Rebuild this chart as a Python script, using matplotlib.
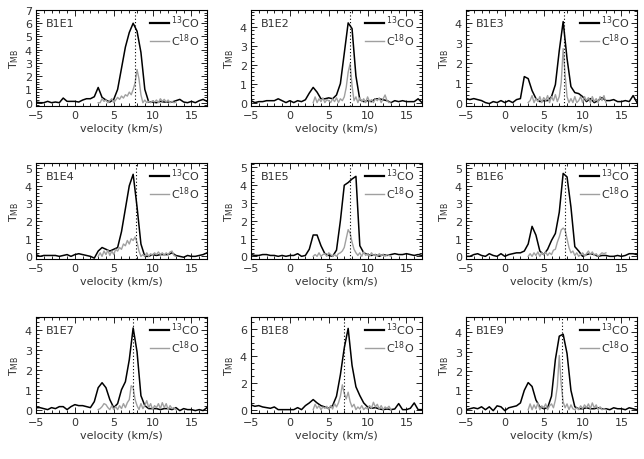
import matplotlib
matplotlib.use('Agg')
import matplotlib.pyplot as plt
from matplotlib.ticker import MultipleLocator
import numpy as np

# positions / names of the nine B1E offsets
names = ['B1E1', 'B1E2', 'B1E3', 'B1E4', 'B1E5', 'B1E6', 'B1E7', 'B1E8', 'B1E9']

# channel velocities (km/s)
vel_13co = np.arange(-5.0, 17.01, 0.5)    # 45 channels
vel_c18o = np.arange(3.0, 13.01, 0.25)    # 41 channels

# 13CO spectra (T_MB)
co13_b1e1 = [0.05, 0.0, 0.0, 0.1, 0.0, 0.05, 0.0, 0.35, 0.1, 0.1,
             0.1, 0.05, 0.2, 0.3, 0.3, 0.45, 1.15, 0.4, 0.2, 0.05,
             0.25, 1.0, 2.6, 4.2, 5.3, 6.0, 5.4, 3.8, 1.0, 0.05,
             0.05, 0.0, 0.1, 0.05, 0.05, 0.05, 0.15, 0.25, 0.05, 0.0,
             0.1, 0.0, 0.15, 0.25, 0.1]
co13_b1e2 = [0.1, 0.0, 0.05, 0.05, 0.1, 0.1, 0.1, 0.2, 0.1, 0.0,
             0.1, 0.0, 0.1, 0.05, 0.15, 0.5, 0.8, 0.55, 0.2, 0.2,
             0.25, 0.2, 0.4, 1.0, 2.6, 4.2, 3.9, 1.4, 0.15, 0.05,
             0.1, 0.05, 0.2, 0.2, 0.15, 0.1, 0.0, 0.1, 0.05, 0.1,
             0.05, 0.05, 0.05, 0.2, 0.0]
co13_b1e3 = [0.2, 0.15, 0.2, 0.15, 0.1, 0.0, -0.05, 0.05, 0.0, 0.1,
             0.0, 0.1, 0.0, 0.15, 0.2, 1.3, 1.2, 0.6, 0.2, 0.05,
             0.1, 0.1, 0.3, 0.9, 2.6, 4.05, 2.2, 0.8, 0.5, 0.45,
             0.3, 0.05, 0.2, 0.0, 0.1, 0.25, 0.1, 0.1, 0.15, 0.05,
             0.05, 0.1, 0.05, 0.35, 0.0]
co13_b1e4 = [0.1, 0.0, 0.05, 0.05, 0.05, 0.05, 0.0, 0.05, 0.1, 0.0,
             0.1, 0.15, 0.1, 0.05, 0.0, -0.1, 0.3, 0.5, 0.4, 0.3,
             0.4, 0.5, 1.4, 2.7, 4.0, 4.65, 2.8, 0.7, 0.0, 0.0,
             0.1, 0.05, 0.1, 0.1, 0.1, 0.2, 0.05, 0.0, -0.05, 0.05,
             0.0, 0.0, 0.05, 0.1, 0.2]
co13_b1e5 = [0.1, 0.05, 0.05, 0.1, 0.1, 0.05, 0.05, 0.0, 0.05, 0.0,
             0.05, 0.05, 0.15, 0.0, 0.05, 0.4, 1.2, 1.2, 0.6, 0.15,
             0.05, 0.0, 0.35, 2.0, 4.0, 4.15, 4.35, 4.5, 0.6, 0.2,
             0.1, 0.05, 0.1, 0.0, 0.1, 0.05, 0.1, 0.15, 0.1, 0.1,
             0.15, 0.1, 0.05, 0.1, 0.05]
co13_b1e6 = [0.0, 0.0, 0.1, 0.15, 0.05, 0.0, 0.15, 0.05, 0.0, 0.15,
             0.0, 0.1, 0.15, 0.2, 0.2, 0.3, 0.7, 1.7, 1.2, 0.3,
             0.1, 0.4, 0.9, 1.3, 2.5, 4.7, 4.5, 2.8, 0.55, 0.3,
             0.0, 0.1, 0.15, 0.1, 0.0, 0.05, 0.05, 0.0, 0.0, 0.05,
             0.0, 0.05, 0.15, 0.15, 0.1]
co13_b1e7 = [0.1, 0.1, 0.05, 0.0, 0.1, 0.05, 0.15, 0.15, 0.0, 0.15,
             0.25, 0.2, 0.2, 0.15, 0.1, 0.4, 1.1, 1.35, 1.1, 0.5,
             0.1, 0.3, 1.0, 1.4, 2.5, 4.1, 2.9, 0.7, 0.2, 0.05,
             0.05, 0.05, 0.0, 0.05, 0.05, 0.0, 0.1, -0.05, 0.05, 0.0,
             0.0, -0.05, 0.0, -0.05, 0.1]
co13_b1e8 = [0.35, 0.25, 0.3, 0.2, 0.15, 0.1, 0.2, 0.0, 0.0, 0.0,
             0.0, 0.0, 0.15, 0.0, 0.3, 0.5, 0.75, 0.5, 0.3, 0.2,
             0.1, 0.3, 1.0, 2.6, 4.6, 6.05, 3.3, 1.7, 1.05, 0.5,
             0.2, 0.1, 0.15, 0.05, 0.0, 0.05, 0.0, 0.05, 0.45, 0.0,
             0.0, 0.1, 0.5, 0.0, 0.0]
co13_b1e9 = [0.0, 0.05, 0.1, 0.05, 0.15, 0.0, 0.15, -0.05, 0.2, 0.15,
             -0.05, 0.1, 0.15, 0.2, 0.35, 1.0, 1.4, 1.2, 0.5, 0.15,
             0.05, 0.1, 0.7, 2.6, 3.8, 3.9, 2.9, 1.0, 0.15, 0.05,
             0.05, 0.1, 0.05, 0.05, 0.1, 0.05, 0.05, 0.0, 0.1, 0.05,
             0.05, 0.0, 0.1, 0.05, 0.0]

# C18O spectra (T_MB)
c18o_b1e1 = [0.0, 0.0, 0.3, 0.1, 0.2, 0.0, 0.15, 0.3, 0.0, 0.2,
             0.4, 0.25, 0.5, 0.35, 0.6, 0.5, 0.8, 0.6, 1.0, 1.5,
             2.5, 1.8, 0.6, 0.0, 0.2, 0.0, 0.1, 0.0, 0.15, 0.05,
             0.2, 0.0, 0.3, 0.1, 0.25, 0.05, 0.2, 0.0, 0.1, 0.0,
             0.05]
c18o_b1e2 = [0.0, 0.3, 0.0, 0.2, 0.05, 0.25, 0.0, 0.15, 0.1, 0.0,
             0.2, 0.05, 0.25, 0.0, 0.2, 0.1, 0.3, 0.8, 1.6, 2.05,
             0.9, 0.1, 0.3, 0.0, 0.25, 0.05, 0.2, 0.0, 0.3, 0.05,
             0.15, 0.0, 0.2, 0.1, 0.25, 0.0, 0.2, 0.4, 0.1, 0.0,
             0.05]
c18o_b1e3 = [0.0, 0.1, 0.35, 0.0, 0.2, 0.05, 0.3, 0.0, 0.25, 0.1,
             0.35, 0.0, 0.3, 0.1, 0.4, 0.05, 0.3, 1.0, 2.7, 1.4,
             0.3, 0.0, 0.2, 0.0, 0.3, 0.0, 0.1, 0.3, 0.0, 0.3,
             0.1, 0.25, 0.0, 0.3, 0.05, 0.2, 0.0, 0.3, 0.1, 0.35,
             0.0]
c18o_b1e4 = [0.0, 0.2, 0.0, 0.3, 0.1, 0.35, 0.05, 0.3, 0.1, 0.4,
             0.3, 0.5, 0.4, 0.7, 0.6, 0.9, 0.7, 1.0, 0.9, 1.1,
             0.8, 0.3, 0.0, 0.1, 0.0, 0.2, 0.0, 0.15, 0.05, 0.2,
             0.1, 0.25, 0.1, 0.2, 0.05, 0.2, 0.1, 0.25, 0.3, 0.05,
             0.0]
c18o_b1e5 = [0.0, 0.1, 0.0, 0.2, 0.0, 0.1, 0.15, 0.0, 0.2, 0.1,
             0.0, 0.1, 0.0, 0.15, 0.2, 0.3, 0.5, 1.0, 1.5, 1.3,
             0.8, 0.4, 0.2, 0.05, 0.2, 0.0, 0.25, 0.05, 0.15, 0.0,
             0.2, 0.05, 0.1, 0.0, 0.15, 0.05, 0.1, 0.0, 0.1, 0.05,
             0.0]
c18o_b1e6 = [0.0, 0.15, 0.0, 0.2, 0.05, 0.25, 0.0, 0.2, 0.1, 0.25,
             0.05, 0.2, 0.1, 0.35, 0.4, 0.8, 1.1, 1.5, 1.6, 1.5,
             1.0, 0.5, 0.2, 0.3, 0.05, 0.2, 0.0, 0.1, 0.2, 0.0,
             0.15, 0.3, 0.1, 0.25, 0.05, 0.15, 0.0, 0.1, 0.2, 0.15,
             0.2]
c18o_b1e7 = [0.0, 0.05, 0.15, 0.3, 0.25, 0.1, 0.0, 0.2, 0.0, 0.15,
             0.0, 0.2, 0.05, 0.3, 0.1, 0.35, 0.5, 1.2, 1.1, 0.5,
             0.2, 0.0, 0.3, 0.05, 0.2, 0.45, 0.1, 0.3, 0.0, 0.2,
             0.1, 0.3, 0.05, 0.35, 0.1, 0.3, 0.0, 0.2, 0.05, 0.1,
             0.0]
c18o_b1e8 = [0.0, 0.4, 0.1, 0.3, 0.0, 0.2, 0.1, 0.25, 0.0, 0.3,
             0.05, 0.45, 0.2, 0.5, 1.0, 1.85, 1.2, 0.8, 1.3, 0.6,
             0.2, 0.4, 0.0, 0.2, 0.05, 0.3, 0.0, 0.15, 0.05, 0.3,
             0.1, 0.55, 0.2, 0.4, 0.05, 0.3, 0.0, 0.2, 0.1, 0.25,
             0.0]
c18o_b1e9 = [0.0, 0.3, 0.0, 0.25, 0.05, 0.35, 0.0, 0.2, 0.1, 0.3,
             0.0, 0.2, 0.3, 0.1, 0.5, 1.2, 2.8, 1.3, 0.4, 0.1,
             0.3, 0.0, 0.25, 0.05, 0.0, 0.1, 0.0, 0.2, 0.05, 0.25,
             0.1, 0.3, 0.05, 0.35, 0.1, 0.25, 0.0, 0.15, 0.0, 0.05,
             0.0]

co13 = [co13_b1e1, co13_b1e2, co13_b1e3, co13_b1e4, co13_b1e5,
        co13_b1e6, co13_b1e7, co13_b1e8, co13_b1e9]
c18o = [c18o_b1e1, c18o_b1e2, c18o_b1e3, c18o_b1e4, c18o_b1e5,
        c18o_b1e6, c18o_b1e7, c18o_b1e8, c18o_b1e9]

# systemic velocity marker (dotted line), km/s
vsys = [7.7, 7.8, 7.55, 7.9, 7.7, 7.8, 7.5, 6.95, 7.35]

# y ranges and major tick step per panel
ylims = [(-0.25, 7.0), (-0.18, 4.88), (-0.17, 4.63),
         (-0.15, 5.29), (-0.15, 5.25), (-0.15, 5.29),
         (-0.17, 4.65), (-0.25, 6.9), (-0.17, 4.79)]
ystep = [1, 1, 1, 1, 1, 1, 1, 2, 1]

W, H = 644, 460
fig = plt.figure(figsize=(W / 100, H / 100), dpi=100)

txtc = '#333333'
lefts = [36, 251, 466]
tops = [11, 164, 318]
aw, ah = 171, 96

for i in range(9):
    r, c = divmod(i, 3)
    ax = fig.add_axes([lefts[c] / W, 1 - (tops[r] + ah) / H, aw / W, ah / H])

    ax.plot(vel_13co, co13[i], color='black', lw=1.1)
    ax.plot(vel_c18o, c18o[i], color='#a0a0a0', lw=1.0)
    ax.axvline(vsys[i], color='black', lw=0.8, ls=(0, (1, 2)))
    # legend handles (13CO drawn a bit heavier, like the original)
    ax.plot([], [], color='black', lw=1.6, label='$^{13}$CO')
    ax.plot([], [], color='#a0a0a0', lw=1.0, label='C$^{18}$O')

    ax.set_xlim(-5, 17)
    ax.set_ylim(*ylims[i])
    ax.xaxis.set_major_locator(MultipleLocator(5))
    ax.xaxis.set_minor_locator(MultipleLocator(1))
    ax.yaxis.set_major_locator(MultipleLocator(ystep[i]))
    ax.yaxis.set_minor_locator(MultipleLocator(ystep[i] / (4 if ystep[i] == 2 else 5)))
    ax.tick_params(which='both', direction='in', top=True, right=True,
                   labelsize=8, labelcolor=txtc, width=0.6, pad=3)
    ax.tick_params(which='major', length=4)
    ax.tick_params(which='minor', length=2)
    for sp in ax.spines.values():
        sp.set_linewidth(0.8)

    ax.set_xlabel('velocity (km/s)', fontsize=8, color=txtc, labelpad=2)
    ax.set_ylabel(r'T$_{\rm MB}$', fontsize=8, color=txtc, labelpad=3)
    ax.text(0.06, 0.86, names[i], transform=ax.transAxes, fontsize=8,
            color=txtc, va='center', ha='left')

    leg = ax.legend(loc='upper right', bbox_to_anchor=(0.955, 0.96),
                    frameon=False, fontsize=8, handlelength=1.7,
                    handletextpad=0.2, labelspacing=0.1,
                    borderaxespad=0.0, borderpad=0.0)
    for t in leg.get_texts():
        t.set_color(txtc)

plt.savefig('out.png', dpi=100)
plt.close()
